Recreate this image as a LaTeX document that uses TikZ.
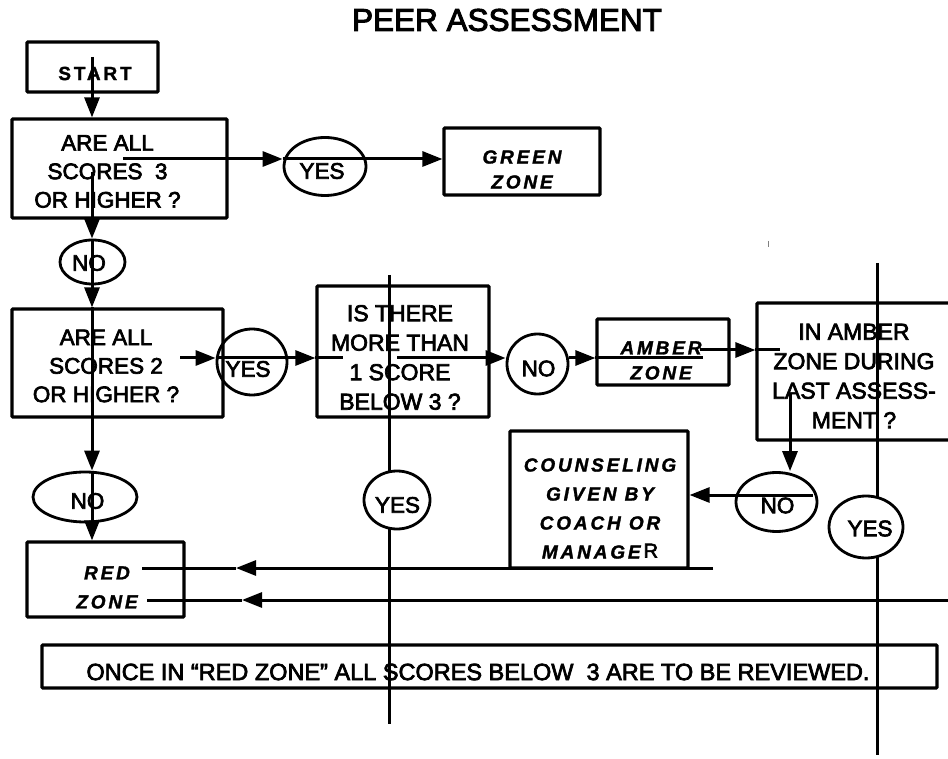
\documentclass[tikz,border=0pt]{standalone}
\usepackage{fontspec}
\setmainfont{Liberation Sans}[FakeBold=3]
\newfontfamily\spacedfont{Liberation Sans}[LetterSpace=15,FakeBold=1.5]
\usetikzlibrary{arrows.meta,shapes.geometric}

\begin{document}
\begin{tikzpicture}[x=1pt,y=-1pt,
  boxed/.style={draw, line width=3.2pt, rounded corners=1pt, inner sep=0pt},
  oval/.style={draw, ellipse, line width=2.8pt, inner sep=0pt},
  wire/.style={line width=3pt},
  arr/.style={wire, -{Triangle[length=20pt,width=15pt]}},
  txt/.style={inner sep=0pt, align=center, font=\fontsize{22.5}{28.5}\selectfont},
  txtw/.style={inner sep=0pt, align=center, font=\fontsize{23}{29.5}\selectfont},
  zone/.style={inner sep=0pt, align=center, font=\spacedfont\bfseries\itshape\fontsize{19}{25}\selectfont},
  zonew/.style={inner sep=0pt, align=center, font=\spacedfont\bfseries\itshape\fontsize{19}{29}\selectfont},
  startfont/.style={inner sep=0pt, font=\spacedfont\bfseries\fontsize{19}{23}\selectfont}
]
\fill[white] (0,0) rectangle (948,759);
\useasboundingbox (0,0) rectangle (948,759);

% title
\node[inner sep=0pt, font=\fontsize{31.5}{36}\selectfont] (title) at (507,20) {PEER ASSESSMENT};

% boxes
\node[boxed, minimum width=131pt, minimum height=50pt]  (start)   at (92.5,67)    {};
\node[boxed, minimum width=215pt, minimum height=99pt]  (q1)      at (119.5,168.5) {};
\node[boxed, minimum width=156pt, minimum height=67pt]  (green)   at (522,161.5)  {};
\node[boxed, minimum width=211pt, minimum height=108pt] (q2)      at (117.5,363)  {};
\node[boxed, minimum width=172pt, minimum height=131pt] (q3)      at (403,351.5)  {};
\node[boxed, minimum width=132pt, minimum height=66pt]  (amber)   at (663,352)    {};
\node[boxed, minimum width=203pt, minimum height=137pt] (q4)      at (858.5,371.5) {};
\node[boxed, minimum width=178pt, minimum height=137pt] (counsel) at (599,499.5)  {};
\node[boxed, minimum width=157pt, minimum height=75pt]  (red)     at (105.5,579.5) {};
\node[boxed, minimum width=895pt, minimum height=43pt]  (note)    at (489.5,666.5) {};

% long vertical rules
\coordinate (la1) at (389,275); \coordinate (la2) at (389,724);
\coordinate (lb1) at (877,263); \coordinate (lb2) at (877,755);
\draw[wire] (la1) -- (la2);
\draw[wire] (lb1) -- (lb2);

% decision ovals
\node[oval, minimum width=82pt,  minimum height=58pt] (yes1) at (325,166.5) {};
\node[oval, minimum width=65pt,  minimum height=44pt] (no1)  at (92.5,262)  {};
\node[oval, minimum width=70pt,  minimum height=66pt] (yes2) at (252,362)   {};
\node[oval, minimum width=104pt, minimum height=50pt] (no2)  at (85,497)    {};
\node[oval, minimum width=61pt,  minimum height=60pt] (no3)  at (537.5,364) {};
\node[oval, minimum width=81pt,  minimum height=59pt] (no4)  at (776.5,502) {};
\node[oval, fill=white, minimum width=66pt, minimum height=58pt] (yes3) at (397,500) {};
\node[oval, fill=white, minimum width=74pt, minimum height=62pt] (yes4) at (866,527) {};

% connectors
\coordinate (s1) at (92,57);
\draw[arr] (s1) -- (s1 |- q1.north);

\coordinate (q1a) at (123,159);
\draw[arr] (q1a) -- (q1a -| yes1.west);
\draw[arr] (q1a -| yes1.west) -- (q1a -| green.west);

\coordinate (q1b) at (92,172);
\draw[arr] (q1b) -- (q1b |- no1.north);
\draw[arr] (q1b |- no1.north) -- (q1b |- q2.north);
\draw[arr] (q1b |- q2.north) -- (q1b |- no2.north);
\draw[arr] (q1b |- no2.north) -- (q1b |- red.north);

\coordinate (q2a) at (180,358);
\draw[arr] (q2a) -- (q2a -| yes2.west);
\draw[arr] (q2a -| yes2.west) -- (q2a -| q3.west);
\coordinate (q3a) at (343,358);
\draw[wire] (q2a -| q3.west) -- (q3a);

\coordinate (q3b) at (397,358);
\draw[arr] (q3b) -- (q3b -| no3.west);
\draw[arr] (q3b -| no3.east) -- (q3b -| amber.west);
\coordinate (am1) at (703,358);
\draw[wire] (q3b -| amber.west) -- (am1);

\coordinate (am2) at (700,350);
\draw[arr] (am2) -- (am2 -| q4.west);
\coordinate (q4b) at (780,350);
\draw[wire] (am2 -| q4.west) -- (q4b);

\coordinate (q4a) at (790,393);
\draw[arr] (q4a) -- (q4a |- no4.north);

\coordinate (n4r) at (813,495);
\draw[arr] (n4r) -- (n4r -| counsel.east);

\coordinate (cb) at (713,568);
\coordinate (tip1) at (236,568);
\coordinate (rt1) at (142,568);
\draw[arr] (cb) -- (tip1);
\draw[wire] (tip1) -- (rt1);

\coordinate (rim) at (948,600);
\coordinate (tip2) at (242,600);
\coordinate (rt2) at (147,600);
\draw[arr] (rim) -- (tip2);
\draw[wire] (tip2) -- (rt2);

% small speck
\draw[gray, line width=1pt] (768,241) -- (768,247);

% texts
\node[startfont] (startt) at (95,73.5) {START};
\node[txt]  (q1t) at (107.5,171.5) {ARE ALL\\SCORES\ \ 3\\OR HIGHER ?};
\node[zone] (greent) at (522,169.5) {GREEN\\ZONE};
\node[txt]  (q2t) at (106,366) {ARE ALL\\SCORES 2\\OR HIGHER ?};
\node[txtw] (q3t) at (400,357.5) {IS THERE\\MORE THAN\\1 SCORE\\BELOW 3 ?};
\node[zone] (ambert) at (661,360.5) {AMBER\\ZONE};
\node[txtw] (q4t) at (854,376) {IN AMBER\\ZONE DURING\\LAST ASSESS-\\MENT ?};
\node[zonew] (counselt) at (600,508.5) {COUNSELING\\GIVEN BY\\COACH OR\\MANAGE\hspace{3pt}{\normalfont\fontsize{20}{24}\selectfont\raisebox{1pt}{R}}};
\node[zonew] (redt) at (107,587.5) {RED\\ZONE};
\node[inner sep=0pt, font=\fontsize{23.5}{28}\selectfont] (notet) at (478,672) {ONCE IN “RED ZONE” ALL SCORES BELOW\ \ 3 ARE TO BE REVIEWED.};

\node[txt] (yes1t) at (322,171) {YES};
\node[txt] (no1t)  at (89,263) {NO};
\node[txt] (yes2t) at (248,369) {YES};
\node[txt] (no2t)  at (87.5,501) {NO};
\node[txt] (no3t)  at (538.5,368.5) {NO};
\node[txt] (no4t)  at (777.5,505.5) {NO};
\node[txt] (yes3t) at (397.5,505) {YES};
\node[txt] (yes4t) at (870,528.5) {YES};
\end{tikzpicture}
\end{document}
